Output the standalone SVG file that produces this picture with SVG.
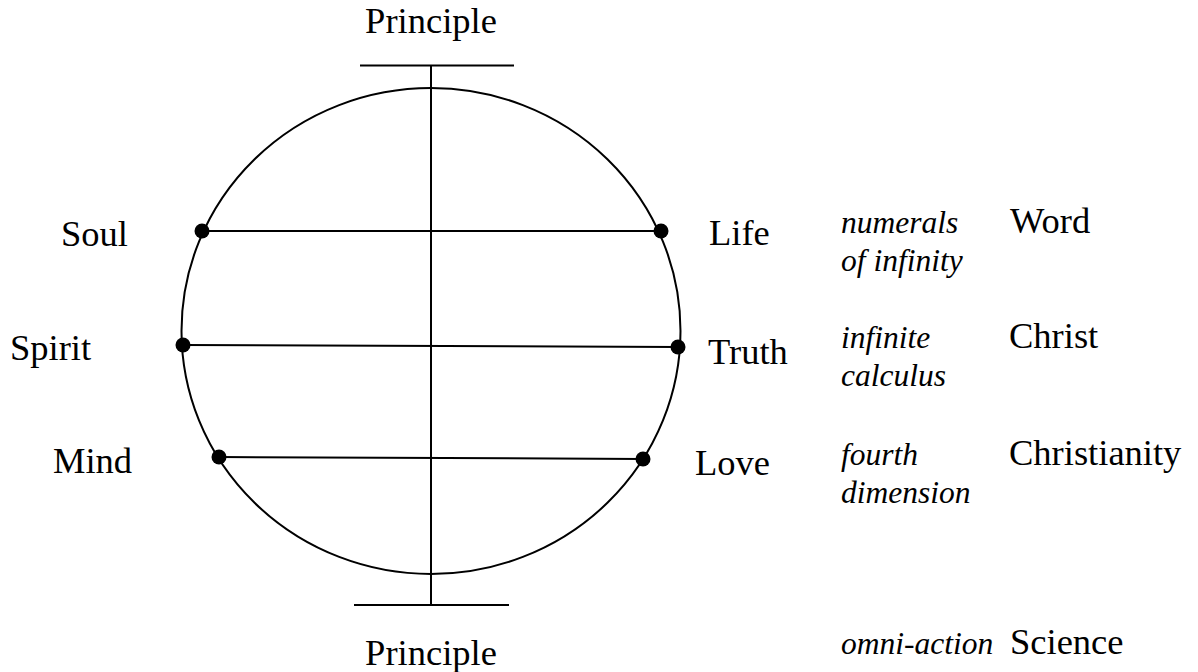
<svg xmlns="http://www.w3.org/2000/svg" width="1198" height="672" viewBox="0 0 1198 672">
<style>
.ln{stroke:#000;stroke-width:2;fill:none}
.dot{fill:#000}
.t{font-family:"Liberation Serif","Times New Roman",serif;font-size:36.5px;fill:#000}
.i{font-family:"Liberation Serif","Times New Roman",serif;font-size:31.5px;font-style:italic;fill:#000}
</style>
<rect width="1198" height="672" fill="#fff"/>
<g id="connectors">
<ellipse class="ln" cx="431" cy="331" rx="249.5" ry="243"/>
<line class="ln" x1="431" y1="65" x2="431" y2="605"/>
<line class="ln" x1="360" y1="65.5" x2="514" y2="65.5" stroke-width="2.5"/>
<line class="ln" x1="354" y1="605" x2="509" y2="605" stroke-width="2.5"/>
<line class="ln" x1="202" y1="231" x2="661" y2="231"/>
<line class="ln" x1="183" y1="345" x2="678" y2="347"/>
<line class="ln" x1="219" y1="457" x2="643" y2="459"/>
</g>
<g id="principle-top"><text class="t" x="431" y="33" text-anchor="middle">Principle</text></g>
<g id="principle-bottom"><text class="t" x="431" y="665" text-anchor="middle">Principle</text></g>
<g id="soul"><circle class="dot" cx="202" cy="231" r="7.5"/><text class="t" x="61" y="246">Soul</text></g>
<g id="life"><circle class="dot" cx="661" cy="231" r="7.5"/><text class="t" x="709" y="245">Life</text></g>
<g id="spirit"><circle class="dot" cx="183" cy="345" r="7.5"/><text class="t" x="10" y="360">Spirit</text></g>
<g id="truth"><circle class="dot" cx="678" cy="347" r="7.5"/><text class="t" x="708" y="364">Truth</text></g>
<g id="mind"><circle class="dot" cx="219" cy="457" r="7.5"/><text class="t" x="53" y="473">Mind</text></g>
<g id="love"><circle class="dot" cx="643" cy="459" r="7.5"/><text class="t" x="695" y="475">Love</text></g>
<g id="word"><text class="i" x="841" y="233">numerals</text><text class="i" x="841" y="271">of infinity</text><text class="t" x="1010" y="233">Word</text></g>
<g id="christ"><text class="i" x="841" y="348">infinite</text><text class="i" x="841" y="386">calculus</text><text class="t" x="1009" y="348">Christ</text></g>
<g id="christianity"><text class="i" x="841" y="465">fourth</text><text class="i" x="841" y="503">dimension</text><text class="t" x="1009" y="465">Christianity</text></g>
<g id="science"><text class="i" x="841" y="654">omni-action</text><text class="t" x="1010" y="654">Science</text></g>
</svg>
